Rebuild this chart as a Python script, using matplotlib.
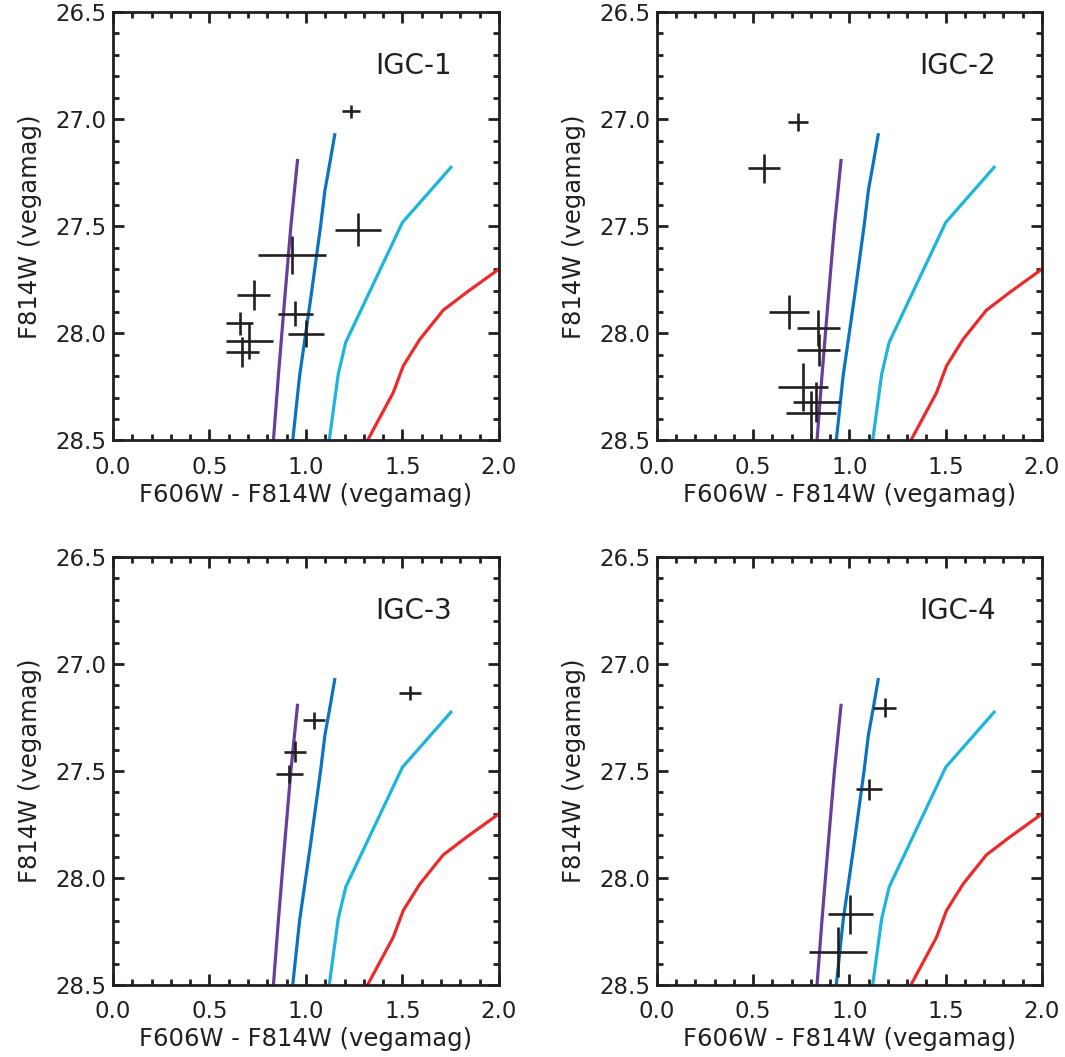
import matplotlib
matplotlib.use("Agg")
import matplotlib.pyplot as plt
from matplotlib.ticker import MultipleLocator

plt.rcParams["font.family"] = ["DejaVu Sans"]

# isochrones (same in every panel): colour, magnitude
iso_purple_x = [0.956, 0.922, 0.889, 0.857, 0.831]
iso_purple_y = [27.193, 27.497, 27.847, 28.198, 28.503]
iso_blue_x = [1.149, 1.123, 1.098, 1.076, 1.023, 0.967, 0.931]
iso_blue_y = [27.073, 27.208, 27.333, 27.497, 27.847, 28.198, 28.503]
iso_cyan_x = [1.751, 1.500, 1.206, 1.167, 1.120]
iso_cyan_y = [27.225, 27.482, 28.042, 28.191, 28.503]
iso_red_x = [2.000, 1.832, 1.711, 1.590, 1.504, 1.452, 1.317]
iso_red_y = [27.700, 27.809, 27.892, 28.028, 28.152, 28.277, 28.503]

# stars in each cluster: colour, mag, colour error, mag error
igc1_col = [1.235, 1.270, 0.927, 0.729, 0.945, 0.998, 0.656, 0.707, 0.671]
igc1_mag = [26.963, 27.516, 27.634, 27.821, 27.908, 28.001, 27.953, 28.034, 28.087]
igc1_ecol = [0.047, 0.121, 0.177, 0.086, 0.091, 0.093, 0.069, 0.123, 0.088]
igc1_emag = [0.031, 0.076, 0.090, 0.070, 0.060, 0.061, 0.055, 0.086, 0.070]

igc2_col = [0.732, 0.556, 0.686, 0.838, 0.840, 0.759, 0.828, 0.799]
igc2_mag = [27.013, 27.229, 27.900, 27.975, 28.077, 28.250, 28.321, 28.374]
igc2_ecol = [0.052, 0.082, 0.106, 0.111, 0.113, 0.129, 0.124, 0.131]
igc2_emag = [0.040, 0.067, 0.080, 0.085, 0.074, 0.111, 0.095, 0.103]

igc3_col = [1.540, 1.042, 0.943, 0.914]
igc3_mag = [27.136, 27.263, 27.409, 27.514]
igc3_ecol = [0.058, 0.059, 0.059, 0.071]
igc3_emag = [0.033, 0.041, 0.047, 0.040]

igc4_col = [1.183, 1.101, 1.005, 0.940]
igc4_mag = [27.204, 27.586, 28.170, 28.345]
igc4_ecol = [0.059, 0.069, 0.117, 0.150]
igc4_emag = [0.045, 0.051, 0.091, 0.117]

names = ["IGC-1", "IGC-2", "IGC-3", "IGC-4"]
stars = [
    (igc1_col, igc1_mag, igc1_ecol, igc1_emag),
    (igc2_col, igc2_mag, igc2_ecol, igc2_emag),
    (igc3_col, igc3_mag, igc3_ecol, igc3_emag),
    (igc4_col, igc4_mag, igc4_ecol, igc4_emag),
]

# axes boxes in figure fractions (left, bottom, width, height)
boxes = [
    [0.1061, 0.5833, 0.3624, 0.4053],
    [0.6169, 0.5833, 0.3615, 0.4053],
    [0.1061, 0.0681, 0.3624, 0.4049],
    [0.6169, 0.0681, 0.3615, 0.4049],
]

fig = plt.figure(figsize=(10.65, 10.57), dpi=100)

for name, (cx, cy, ex, ey), box in zip(names, stars, boxes):
    ax = fig.add_axes(box)
    ax.plot(iso_purple_x, iso_purple_y, c="#6a3d9a", lw=2.3)
    ax.plot(iso_blue_x, iso_blue_y, c="#0a73c2", lw=2.3)
    ax.plot(iso_cyan_x, iso_cyan_y, c="#1cb5de", lw=2.3)
    ax.plot(iso_red_x, iso_red_y, c="#ec2a2a", lw=2.3)
    ax.errorbar(cx, cy, xerr=ex, yerr=ey, fmt="none", ecolor="#231f20",
                elinewidth=1.9, capsize=0)

    ax.set_xlim(0, 2.0)
    ax.set_ylim(28.5, 26.5)
    ax.xaxis.set_major_locator(MultipleLocator(0.5))
    ax.xaxis.set_minor_locator(MultipleLocator(0.1))
    ax.yaxis.set_major_locator(MultipleLocator(0.5))
    ax.yaxis.set_minor_locator(MultipleLocator(0.1))
    ax.xaxis.set_major_formatter(plt.FormatStrFormatter("%.1f"))
    ax.yaxis.set_major_formatter(plt.FormatStrFormatter("%.1f"))
    ax.tick_params(which="both", direction="in", top=True, right=True,
                   width=2, labelsize=16.5, colors="#231f20")
    ax.tick_params(which="major", length=8)
    ax.tick_params(which="minor", length=4.5)
    ax.tick_params(axis="x", pad=11)
    ax.tick_params(axis="y", pad=5)
    for s in ax.spines.values():
        s.set_linewidth(2)
        s.set_color("#231f20")

    ax.set_xlabel("F606W - F814W (vegamag)", fontsize=17.5, labelpad=3,
                  color="#231f20")
    ax.set_ylabel("F814W (vegamag)", fontsize=17.5, labelpad=9,
                  color="#231f20")
    ax.text(0.68, 0.874, name, transform=ax.transAxes, fontsize=20,
            ha="left", va="center", color="#231f20")

fig.savefig("out.png", dpi=100)
